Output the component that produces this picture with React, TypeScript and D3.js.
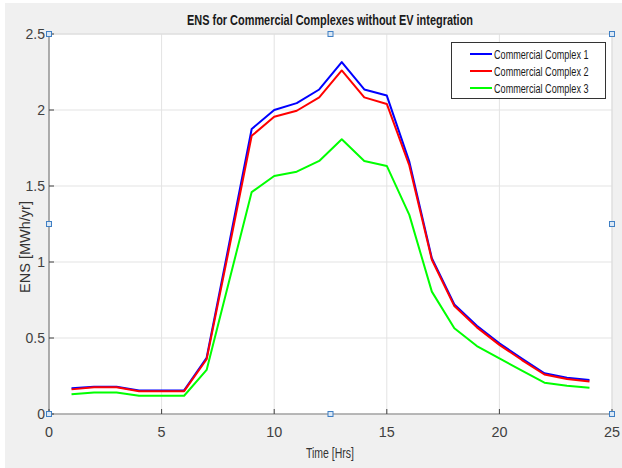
import React from 'react';
import * as d3 from 'd3';

// hours on the x axis
const hours = [1, 2, 3, 4, 5, 6, 7, 8, 9, 10, 11, 12, 13, 14, 15, 16, 17, 18, 19, 20, 21, 22, 23, 24];

// ENS values [MWh/yr]
const complex1 = [0.17, 0.18, 0.18, 0.155, 0.155, 0.155, 0.37, 1.12, 1.875, 2.0, 2.045, 2.135, 2.315, 2.135, 2.095, 1.66, 1.025, 0.72, 0.58, 0.465, 0.365, 0.268, 0.238, 0.224];
const complex2 = [0.162, 0.176, 0.176, 0.15, 0.15, 0.15, 0.36, 1.09, 1.83, 1.955, 1.995, 2.083, 2.26, 2.083, 2.04, 1.635, 1.015, 0.71, 0.57, 0.455, 0.355, 0.26, 0.23, 0.214];
const complex3 = [0.13, 0.142, 0.142, 0.12, 0.12, 0.12, 0.29, 0.875, 1.46, 1.566, 1.594, 1.665, 1.807, 1.665, 1.632, 1.31, 0.805, 0.564, 0.447, 0.366, 0.285, 0.206, 0.186, 0.173];

const seriesNames = ['Commercial Complex 1', 'Commercial Complex 2', 'Commercial Complex 3'];
const seriesColors = ['#0000ff', '#ff0000', '#00ff00'];

const xTicks = [0, 5, 10, 15, 20, 25];
const yTicks = [0, 0.5, 1, 1.5, 2, 2.5];

const W = 622;
const H = 468;
const margin = { top: 34, right: 10, bottom: 54, left: 49 };
const font = '"Liberation Sans", Arial, sans-serif';

const App = () => {
  const x = d3.scaleLinear().domain([0, 25]).range([margin.left, W - margin.right]);
  const y = d3.scaleLinear().domain([0, 2.5]).range([H - margin.bottom, margin.top]);

  const line = d3.line<number>()
    .x((d, i) => x(hours[i]))
    .y((d) => y(d));

  const series = [complex1, complex2, complex3];
  const x0 = x(0), x1 = x(25), y0 = y(0), y1 = y(2.5);
  const xm = (x0 + x1) / 2, ym = (y0 + y1) / 2;

  // the little selection handles matlab leaves on the axes
  const handles = [
    [x0, y1], [xm, y1], [x1, y1],
    [x0, ym], [x1, ym],
    [x0, y0], [xm, y0], [x1, y0],
  ];

  return (
    <svg width={W} height={H} style={{ position: 'absolute', left: 0, top: 0 }} fontFamily={font}>
      <rect x={0} y={0} width={W} height={H} fill="#ffffff" />
      <rect x={5} y={3} width={W - 5} height={H - 3} fill="#f0f0f0" />
      <rect x={x0} y={y1} width={x1 - x0} height={y0 - y1} fill="#ffffff" />

      {/* grid */}
      {xTicks.map((t) => (
        <line key={'gx' + t} x1={x(t)} x2={x(t)} y1={y1} y2={y0} stroke="#e3e3e3" strokeWidth={1} />
      ))}
      {yTicks.map((t) => (
        <line key={'gy' + t} x1={x0} x2={x1} y1={y(t)} y2={y(t)} stroke="#e3e3e3" strokeWidth={1} />
      ))}

      {/* box */}
      <line x1={x0} x2={x1} y1={y1} y2={y1} stroke="#dcdcdc" />
      <line x1={x1} x2={x1} y1={y1} y2={y0} stroke="#dcdcdc" />
      <line x1={x0} x2={x0} y1={y1} y2={y0} stroke="#808080" strokeWidth={1.2} />
      <line x1={x0} x2={x1} y1={y0} y2={y0} stroke="#808080" strokeWidth={1.2} />

      {/* ticks and labels */}
      {xTicks.map((t) => (
        <g key={'tx' + t}>
          <line x1={x(t)} x2={x(t)} y1={y0} y2={y0 - 5} stroke="#404040" />
          <text x={x(t)} y={437} textAnchor="middle" fontSize={14} fill="#404040" textLength={t < 10 ? 8 : 16} lengthAdjust="spacingAndGlyphs">{t}</text>
        </g>
      ))}
      {yTicks.map((t) => (
        <g key={'ty' + t}>
          <line x1={x0} x2={x0 + 5} y1={y(t)} y2={y(t)} stroke="#404040" />
          <text x={x0 - 4} y={y(t)} dy="0.35em" textAnchor="end" fontSize={14} fill="#404040">{t}</text>
        </g>
      ))}

      {/* series */}
      {series.map((s, i) => (
        <path key={'s' + i} d={line(s) || ''} fill="none" stroke={seriesColors[i]} strokeWidth={2} strokeLinejoin="round" />
      ))}

      {/* handles */}
      {handles.map(([hx, hy], i) => (
        <rect key={'h' + i} x={hx - 2.5} y={hy - 2.5} width={5} height={5} fill="#dbe8f5" stroke="#3f7fc4" strokeWidth={1} />
      ))}

      {/* legend */}
      <rect x={451.5} y={42.5} width={154} height={56} fill="#ffffff" stroke="#333333" strokeWidth={1} />
      {seriesNames.map((n, i) => (
        <g key={'l' + i}>
          <line x1={470} x2={492} y1={54 + i * 17} y2={54 + i * 17} stroke={seriesColors[i]} strokeWidth={2} />
          <g transform={`translate(494,${54 + i * 17}) scale(0.7,1)`}>
            <text x={0} y={0} dy="0.35em" fontSize={13} fill="#1a1a1a">{n}</text>
          </g>
        </g>
      ))}

      {/* titles */}
      <text x={330} y={25} textAnchor="middle" fontSize={15} fontWeight="bold" fill="#1a1a1a" textLength={286} lengthAdjust="spacingAndGlyphs">
        ENS for Commercial Complexes without EV integration
      </text>
      <text x={330} y={458} textAnchor="middle" fontSize={15} fill="#333333" textLength={48} lengthAdjust="spacingAndGlyphs">Time [Hrs]</text>
      <text transform={`translate(25,${247}) rotate(-90)`} textAnchor="middle" dy="0.35em" fontSize={14.5} fill="#333333">ENS [MWh/yr]</text>
    </svg>
  );
};

export default App;
